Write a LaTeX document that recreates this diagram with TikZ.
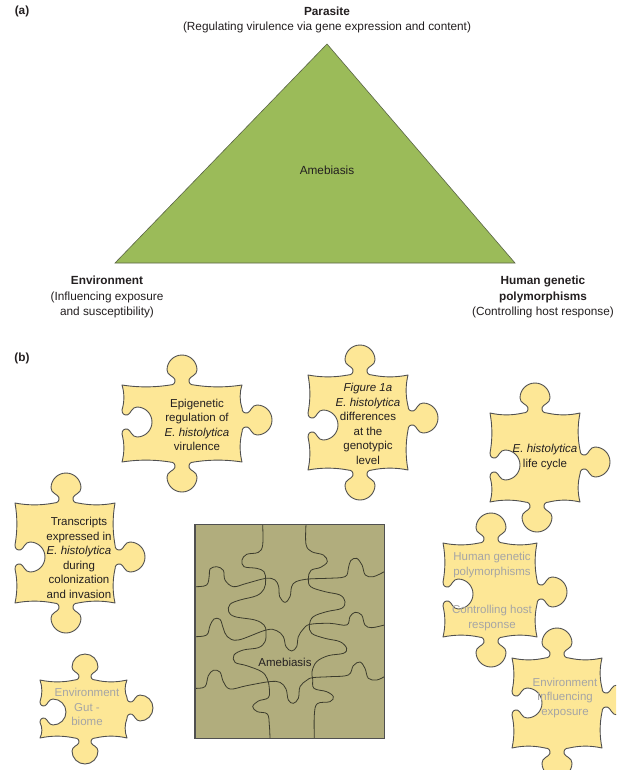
\documentclass[tikz,border=0pt]{standalone}
\usepackage{fontspec}
\setmainfont{Liberation Sans}
\definecolor{piecefill}{RGB}{253,231,150}
\definecolor{pieceline}{RGB}{80,80,80}
\definecolor{trifill}{RGB}{155,187,89}
\definecolor{triline}{RGB}{90,100,70}
\definecolor{boardfill}{RGB}{177,173,125}
\definecolor{boardline}{RGB}{60,60,45}
\definecolor{graytext}{RGB}{165,165,165}
\definecolor{txt}{RGB}{35,31,32}
\newcommand\kr{15}
\newcommand\sw{2.5}
\newcommand\kq[8]{({#1+(#7)*\kr*(#3)+(#8)*\kr*(#5)},{#2+(#7)*\kr*(#4)+(#8)*\kr*(#6)})}
\newcommand\knob[6]{%
 .. controls \kq{#1}{#2}{#3}{#4}{#5}{#6}{-0.55}{0} and \kq{#1}{#2}{#3}{#4}{#5}{#6}{-0.42}{0.15} .. \kq{#1}{#2}{#3}{#4}{#5}{#6}{-0.48}{0.38}
 .. controls \kq{#1}{#2}{#3}{#4}{#5}{#6}{-0.55}{0.58} and \kq{#1}{#2}{#3}{#4}{#5}{#6}{-1}{0.65} .. \kq{#1}{#2}{#3}{#4}{#5}{#6}{-1}{1.0}
 .. controls \kq{#1}{#2}{#3}{#4}{#5}{#6}{-1}{1.552} and \kq{#1}{#2}{#3}{#4}{#5}{#6}{-0.552}{2.0} .. \kq{#1}{#2}{#3}{#4}{#5}{#6}{0}{2.0}
 .. controls \kq{#1}{#2}{#3}{#4}{#5}{#6}{0.552}{2.0} and \kq{#1}{#2}{#3}{#4}{#5}{#6}{1}{1.552} .. \kq{#1}{#2}{#3}{#4}{#5}{#6}{1}{1.0}
 .. controls \kq{#1}{#2}{#3}{#4}{#5}{#6}{1}{0.65} and \kq{#1}{#2}{#3}{#4}{#5}{#6}{0.55}{0.58} .. \kq{#1}{#2}{#3}{#4}{#5}{#6}{0.48}{0.38}
 .. controls \kq{#1}{#2}{#3}{#4}{#5}{#6}{0.42}{0.15} and \kq{#1}{#2}{#3}{#4}{#5}{#6}{0.55}{0} .. \kq{#1}{#2}{#3}{#4}{#5}{#6}{0.8}{0}
}
% gently bowed straight part: from (x1,y1) to (x2,y2), bowing toward normal (nx,ny)
\newcommand\seg[6]{ .. controls ({(#1)+((#3)-(#1))/3+(#5)*\sw},{(#2)+((#4)-(#2))/3+(#6)*\sw}) and ({(#1)+2*((#3)-(#1))/3+(#5)*\sw},{(#2)+2*((#4)-(#2))/3+(#6)*\sw}) .. ({#3},{#4})}
% L T R B topMx rightMy leftMy bottomMx
\newcommand\puzzle[8]{(#1,#2)
 \seg{#1}{#2}{#5-0.8*\kr}{#2}{0}{1} \knob{#5}{#2}{1}{0}{0}{-1} \seg{#5+0.8*\kr}{#2}{#3}{#2}{0}{1}
 \seg{#3}{#2}{#3}{#6-0.8*\kr}{-1}{0} \knob{#3}{#6}{0}{1}{1}{0} \seg{#3}{#6+0.8*\kr}{#3}{#4}{-1}{0}
 \seg{#3}{#4}{#8+0.8*\kr}{#4}{0}{-1} \knob{#8}{#4}{-1}{0}{0}{1} \seg{#8-0.8*\kr}{#4}{#1}{#4}{0}{-1}
 \seg{#1}{#4}{#1}{#7+0.8*\kr}{1}{0} \knob{#1}{#7}{0}{-1}{1}{0} \seg{#1}{#7-0.8*\kr}{#1}{#2}{1}{0} -- cycle}
\begin{document}
\begin{tikzpicture}[x=1pt,y=-1pt,
  lbl/.style={inner sep=0pt, text=txt, font=\fontsize{11.8}{15.5}\selectfont, align=center},
  ptxt/.style={inner sep=0pt, text=txt, font=\fontsize{11.5}{14.5}\selectfont, align=center},
  gtxt/.style={ptxt, text=graytext},
  piece/.style={fill=piecefill, draw=pieceline, line width=0.9pt, line join=round},
  tri/.style={fill=trifill, draw=triline, line width=0.6pt},
  cut/.style={draw=boardline, line width=0.8pt, smooth, tension=0.6}]
\useasboundingbox (0,0) rectangle (616,770);
\clip (0,0) rectangle (616,770);
\fill[white] (0,0) rectangle (616,770);
% ---- (a)
\node[lbl, font=\fontsize{11.8}{15.5}\selectfont\bfseries] (la) at (22,11) {(a)};
\node[lbl, font=\fontsize{11.8}{15.5}\selectfont\bfseries] (par) at (327,11) {Parasite};
\node[lbl] (parsub) at (327,27) {(Regulating virulence via gene expression and content)};
\draw[tri] (327,44) -- (515,263) -- (115,263) -- cycle;
\node[lbl] (ame1) at (327,170) {Amebiasis};
\node[lbl] (env) at (107,297) {\textbf{Environment}\\(Influencing exposure\\and susceptibility)};
\node[lbl] (hum) at (543,297) {\textbf{Human genetic}\\\textbf{polymorphisms}\\(Controlling host response)};
% ---- (b)
\node[lbl, font=\fontsize{11.8}{15.5}\selectfont\bfseries] (lb) at (22,358) {(b)};
% pieces
\draw[piece] \puzzle{122}{385}{242}{462}{182}{420}{422}{182};
\node[ptxt] (pA) at (197,425) {Epigenetic\\regulation of\\\textit{E. histolytica}\\virulence};
\draw[piece] \puzzle{308}{375}{408}{470}{360}{418}{425}{360};
\node[ptxt] (pB) at (368,424) {\textit{Figure 1a}\\\textit{E. histolytica}\\differences\\at the\\genotypic\\level};
\draw[piece] \puzzle{490}{413}{580}{502}{535}{462}{465}{537};
\node[ptxt] (pC) at (545,457) {\textit{E. histolytica}\\life cycle};
\draw[piece] \puzzle{15}{503}{115}{603}{66}{557}{557}{66};
\node[ptxt] (pD) at (79,558) {Transcripts\\expressed in\\\textit{E. histolytica}\\during\\colonization\\and invasion};
\draw[piece] \puzzle{443}{543}{537}{637}{491}{592}{594}{491};
\node[gtxt] (pE1) at (492,565) {Human genetic\\polymorphisms};
\node[gtxt] (pE2) at (492,618) {Controlling host\\response};
\draw[piece] \puzzle{512}{658}{602}{748}{557}{700}{703}{557};
\node[gtxt] (pF) at (565,698) {Environment\\Influencing\\exposure};
\renewcommand\kr{13}
\draw[piece] \puzzle{40}{680}{127}{738}{85}{708}{712}{85};
\node[gtxt] (pG) at (87,707) {Environment\\Gut -\\biome};
% board
\begin{scope}[shift={(180,515)}, scale=1/3]
\fill[boardfill] (45,28) rectangle (613,670);
\draw[cut] plot coordinates {(248,28) (248,90) (235,112) (200,118) (186,135) (192,155) (230,160) (252,170) (257,195) (252,222) (230,242) (180,255) (150,268) (146,290) (165,305) (225,315) (252,330) (258,350) (255,380) (235,398) (190,405) (162,420) (165,442) (200,452) (245,470) (262,492) (268,520) (265,548) (235,558) (218,575) (232,590) (262,597) (268,630) (270,670)};
\draw[cut] plot coordinates {(378,28) (378,88) (395,110) (430,120) (442,140) (422,157) (393,166) (385,190) (392,215) (435,230) (480,240) (495,260) (485,280) (440,290) (400,305) (388,330) (395,355) (435,370) (480,380) (500,400) (490,415) (445,422) (410,440) (396,470) (398,492) (402,520) (440,530) (460,545) (450,560) (412,566) (403,600) (403,670)};
\draw[cut] plot coordinates {(45,215) (80,210) (88,180) (90,162) (110,155) (130,166) (135,195) (160,215) (200,205) (258,190) (285,195) (296,215) (299,245) (315,262) (330,245) (335,215) (348,200) (385,192) (440,190) (495,185) (505,160) (512,137) (530,130) (546,150) (556,180) (580,185) (613,170)};
\draw[cut] plot coordinates {(45,365) (80,360) (90,332) (102,312) (120,313) (130,340) (142,365) (175,375) (258,345) (290,347) (310,365) (318,395) (335,408) (350,395) (355,365) (370,342) (390,328) (450,325) (500,330) (510,305) (525,292) (545,300) (555,330) (575,338) (613,330)};
\draw[cut] plot coordinates {(45,520) (75,515) (85,482) (100,466) (120,471) (130,500) (150,522) (200,512) (268,500) (300,502) (318,522) (325,555) (340,565) (355,550) (360,515) (380,496) (398,488) (450,485) (505,480) (520,452) (540,441) (555,460) (565,490) (590,495) (613,485)};
\draw[draw=pieceline, line width=1.3pt] (45,28) rectangle (613,670);
\end{scope}
\node[ptxt] (ame2) at (285,662) {Amebiasis};
\end{tikzpicture}
\end{document}
